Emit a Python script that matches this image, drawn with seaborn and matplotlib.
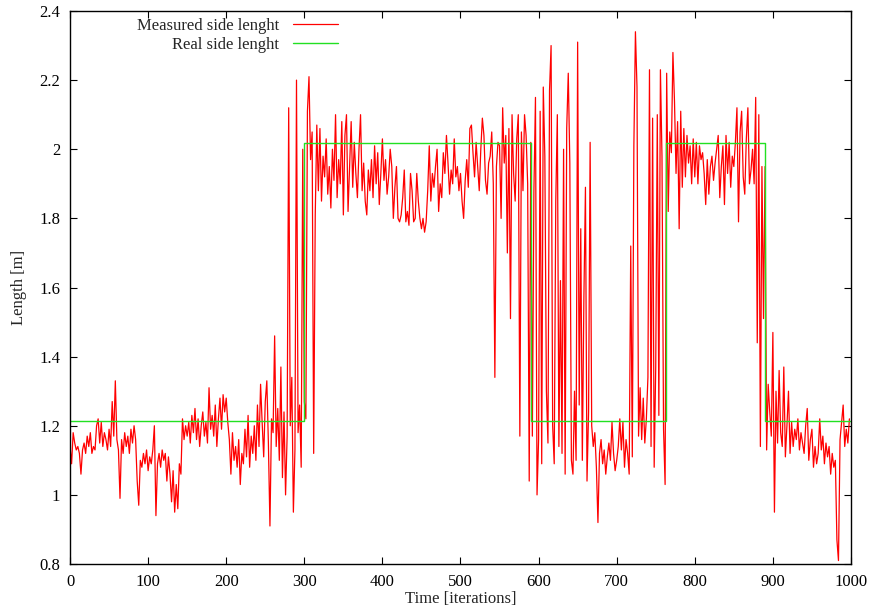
"""
Measured vs real side length over time (gnuplot-style figure).
"""

import numpy as np
import pandas as pd
import seaborn as sns
import matplotlib.pyplot as plt

# measured side length, one sample every 2 iterations
measured_len = [
    1.14, 1.09, 1.18, 1.15, 1.13, 1.14, 1.12, 1.06, 1.13, 1.15, 1.12, 1.17, 1.14, 1.18, 1.12, 1.14, 1.13, 1.20, 1.22, 1.15, 1.21, 1.14, 1.18, 1.16, 1.13,
    1.19, 1.14, 1.27, 1.17, 1.33, 1.16, 1.13, 0.99, 1.16, 1.12, 1.18, 1.14, 1.17, 1.12, 1.19, 1.15, 1.20, 1.16, 1.04, 0.97, 1.10, 1.08, 1.12, 1.09, 1.13,
    1.07, 1.11, 1.09, 1.13, 1.20, 0.94, 1.09, 1.12, 1.08, 1.13, 1.10, 1.12, 1.04, 1.11, 1.06, 0.98, 1.07, 0.95, 1.03, 0.96, 1.09, 1.06, 1.22, 1.16, 1.20,
    1.17, 1.21, 1.15, 1.23, 1.18, 1.25, 1.16, 1.22, 1.14, 1.20, 1.24, 1.17, 1.21, 1.15, 1.31, 1.19, 1.23, 1.17, 1.26, 1.14, 1.22, 1.28, 1.19, 1.29, 1.24,
    1.28, 1.21, 1.16, 1.06, 1.18, 1.10, 1.14, 1.08, 1.16, 1.03, 1.12, 1.09, 1.19, 1.11, 1.23, 1.08, 1.17, 1.12, 1.20, 1.10, 1.26, 1.14, 1.32, 1.21, 1.11,
    1.27, 1.33, 1.15, 0.91, 1.22, 1.18, 1.46, 1.14, 1.25, 1.10, 1.37, 1.05, 1.24, 1.00, 1.17, 2.12, 1.20, 1.34, 0.95, 1.13, 2.20, 1.18, 1.26, 1.08, 2.00,
    1.27, 1.22, 2.11, 2.21, 1.97, 2.05, 1.12, 1.81, 2.07, 1.88, 2.06, 1.85, 1.98, 1.92, 2.03, 1.87, 1.95, 1.83, 2.00, 1.91, 2.10, 1.86, 1.97, 1.90, 2.08,
    1.81, 2.04, 2.10, 1.82, 1.95, 2.08, 1.89, 2.02, 1.93, 1.86, 2.00, 2.10, 1.88, 1.96, 1.85, 1.81, 1.94, 1.88, 1.97, 1.86, 2.01, 1.90, 1.99, 1.84, 1.93,
    2.03, 1.91, 1.97, 1.87, 1.92, 2.00, 1.95, 1.80, 1.89, 1.95, 1.80, 1.79, 1.81, 1.86, 1.94, 1.79, 1.82, 1.78, 1.93, 1.88, 1.79, 1.80, 1.93, 1.85, 1.80,
    1.77, 1.80, 1.76, 1.79, 1.88, 2.01, 1.85, 1.93, 1.89, 1.95, 2.00, 1.82, 1.90, 1.86, 1.99, 1.93, 2.04, 1.96, 1.87, 1.94, 1.90, 2.03, 1.92, 1.95, 1.88,
    1.93, 1.85, 1.80, 1.91, 1.97, 1.89, 2.06, 2.07, 1.99, 1.92, 2.02, 1.95, 1.88, 2.00, 2.09, 2.04, 1.91, 1.87, 1.96, 1.98, 2.05, 1.90, 1.34, 1.95, 2.02,
    2.01, 1.80, 2.12, 1.96, 2.04, 1.70, 2.06, 1.51, 2.10, 1.93, 1.85, 2.03, 2.10, 1.17, 2.05, 1.88, 2.10, 2.04, 1.90, 1.04, 2.02, 1.17, 1.88, 2.15, 1.00,
    1.16, 2.11, 1.09, 2.18, 1.98, 1.30, 1.15, 2.17, 2.30, 1.20, 1.09, 1.85, 2.10, 1.14, 1.62, 1.12, 2.00, 1.06, 2.06, 2.22, 1.96, 1.10, 1.06, 1.30, 1.10,
    2.31, 1.26, 1.77, 1.10, 1.57, 1.89, 1.04, 1.24, 2.02, 1.20, 1.14, 1.18, 1.08, 0.92, 1.12, 1.16, 1.09, 1.13, 1.06, 1.11, 1.15, 1.10, 1.21, 1.12, 1.07,
    1.10, 1.14, 1.22, 1.13, 1.21, 1.08, 1.16, 1.12, 1.06, 1.72, 1.11, 2.01, 2.34, 2.18, 1.17, 1.31, 1.16, 1.28, 1.15, 1.22, 1.34, 2.23, 1.14, 2.09, 1.08,
    1.37, 2.10, 1.23, 2.23, 1.98, 1.19, 1.03, 2.22, 1.82, 2.05, 1.99, 2.28, 2.14, 1.93, 2.08, 1.77, 2.11, 1.89, 2.06, 1.92, 2.04, 1.96, 2.01, 1.90, 2.03,
    1.92, 2.02, 1.90, 2.01, 1.97, 1.99, 1.93, 1.84, 1.97, 1.87, 1.95, 1.98, 1.91, 1.96, 2.00, 2.04, 1.86, 1.95, 2.01, 1.84, 2.04, 1.93, 2.02, 1.89, 1.98,
    1.95, 2.02, 2.12, 1.79, 2.05, 2.11, 1.92, 1.87, 2.03, 2.12, 1.90, 1.94, 2.00, 1.90, 2.15, 1.44, 2.10, 1.14, 1.95, 1.51, 1.95, 1.13, 1.32, 1.24, 1.17,
    1.47, 0.95, 1.30, 1.15, 1.36, 1.18, 1.14, 1.37, 1.11, 1.20, 1.30, 1.12, 1.21, 1.14, 1.19, 1.16, 1.22, 1.13, 1.18, 1.15, 1.12, 1.20, 1.25, 1.10, 1.16,
    1.19, 1.08, 1.14, 1.09, 1.12, 1.22, 1.13, 1.17, 1.09, 1.15, 1.11, 1.14, 1.06, 1.12, 1.08, 1.10, 0.87, 0.81, 1.16, 1.21, 1.26, 1.14, 1.19, 1.15, 1.22,
]
sample_step = 2

# real side length: piecewise constant
real_change_iters = [0, 300, 590, 763, 890, 1000]
real_levels = [1.213, 2.018, 1.213, 2.018, 1.213, 1.213]

x_ticks = [0, 100, 200, 300, 400, 500, 600, 700, 800, 900, 1000]
y_ticks = [0.8, 1.0, 1.2, 1.4, 1.6, 1.8, 2.0, 2.2, 2.4]
y_tick_labels = ["0.8", "1", "1.2", "1.4", "1.6", "1.8", "2", "2.2", "2.4"]

sns.set_style("ticks")
plt.rcParams["font.family"] = ["Liberation Serif", "DejaVu Serif"]
plt.rcParams["font.size"] = 12

measured_df = pd.DataFrame({
    "iteration": np.arange(len(measured_len)) * sample_step,
    "length": measured_len,
})
real_df = pd.DataFrame({"iteration": real_change_iters, "length": real_levels})

fig = plt.figure(figsize=(8.71, 6.11), dpi=100)
ax = fig.add_axes([0.0804, 0.0769, 0.8966, 0.9051])

sns.lineplot(data=measured_df, x="iteration", y="length", ax=ax, color="#ff0000",
             linewidth=0.9, estimator=None, label="Measured side lenght")
sns.lineplot(data=real_df, x="iteration", y="length", ax=ax, color="#22e022",
             linewidth=1.0, estimator=None, drawstyle="steps-post", label="Real side lenght")

ax.set_xlim(0, 1000)
ax.set_ylim(0.8, 2.4)
ax.set_xticks(x_ticks)
ax.set_yticks(y_ticks)
ax.set_yticklabels(y_tick_labels)
ax.tick_params(direction="in", length=5, width=0.8, top=True, right=True, pad=7,
               labelsize=12, colors="black")
for spine in ax.spines.values():
    spine.set_visible(True)
    spine.set_linewidth(1.0)
    spine.set_color("black")

ax.set_xlabel("Time [iterations]", fontsize=12, labelpad=1)
ax.set_ylabel("Length [m]", fontsize=12, labelpad=9)

ax.legend(loc="upper right", bbox_to_anchor=(0.362, 1.014), frameon=False, markerfirst=False,
          handlelength=2.7, handletextpad=0.8, labelspacing=0.15, fontsize=12)

plt.savefig("out.png", dpi=100)
plt.close()
